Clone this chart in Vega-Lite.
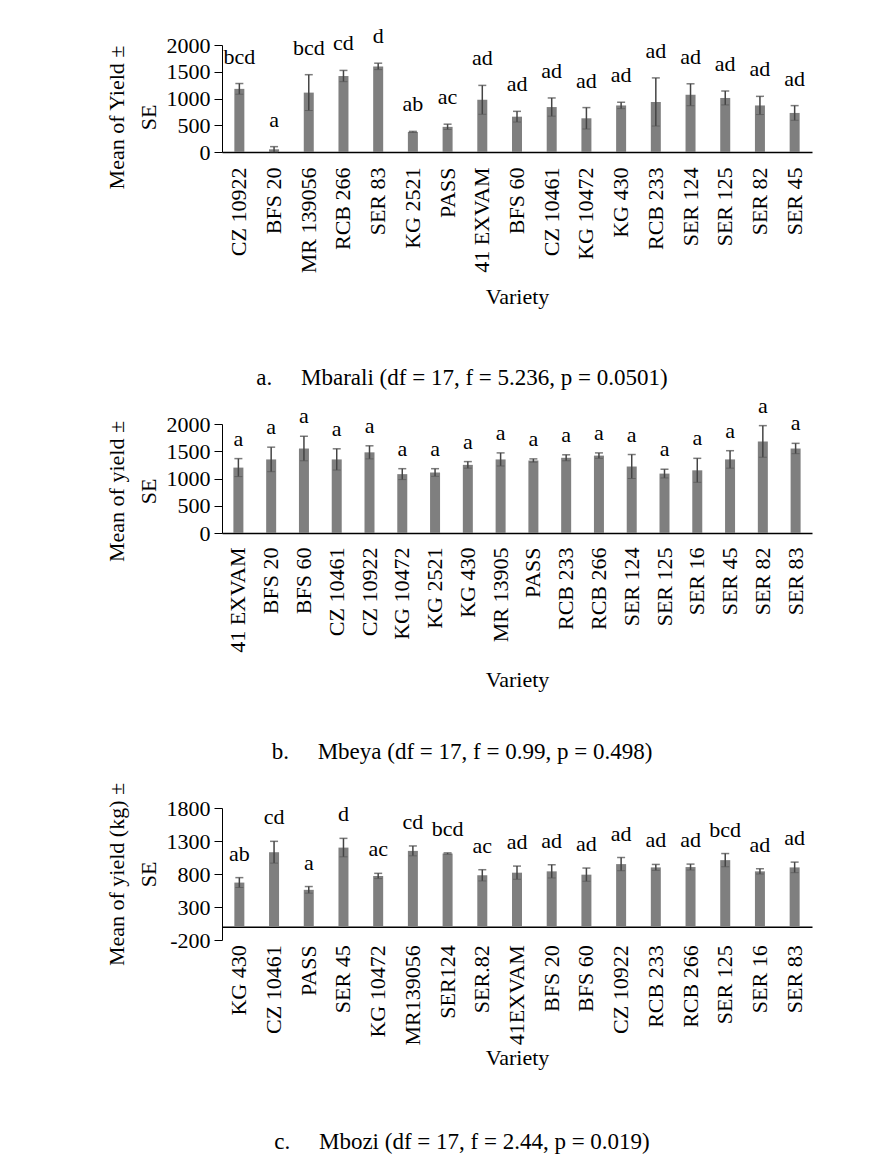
{
  "$schema": "https://vega.github.io/schema/vega-lite/v6.json",
  "background": "white",
  "padding": {"left": 105, "top": 25, "right": 10, "bottom": 10},
  "spacing": 4,
  "config": {
    "font": "Liberation Serif",
    "view": {"stroke": null},
    "axis": {"labelFont": "Liberation Serif", "titleFont": "Liberation Serif", "labelColor": "black", "titleColor": "black", "titleFontWeight": "normal", "grid": false, "domainColor": "black", "tickColor": "black", "labelFontSize": 22, "titleFontSize": 22, "titleLineHeight": 32},
    "title": {"font": "Liberation Serif", "fontSize": 23, "fontWeight": "normal", "color": "black"},
    "text": {"font": "Liberation Serif", "fontSize": 22, "color": "black"}
  },
  "datasets": {
    "mbarali": [
      {"variety": "CZ 10922", "mean": 1180, "se": 100, "grp": "bcd"},
      {"variety": "BFS 20", "mean": 50, "se": 50, "grp": "a"},
      {"variety": "MR 139056", "mean": 1110, "se": 335, "grp": "bcd"},
      {"variety": "RCB 266", "mean": 1420, "se": 105, "grp": "cd"},
      {"variety": "SER 83", "mean": 1600, "se": 60, "grp": "d"},
      {"variety": "KG 2521", "mean": 375, "se": 10, "grp": "ab"},
      {"variety": "PASS", "mean": 470, "se": 50, "grp": "ac"},
      {"variety": "41 EXVAM", "mean": 975, "se": 270, "grp": "ad"},
      {"variety": "BFS 60", "mean": 660, "se": 100, "grp": "ad"},
      {"variety": "CZ 10461", "mean": 840, "se": 170, "grp": "ad"},
      {"variety": "KG 10472", "mean": 630, "se": 200, "grp": "ad"},
      {"variety": "KG 430", "mean": 870, "se": 60, "grp": "ad"},
      {"variety": "RCB 233", "mean": 935, "se": 450, "grp": "ad"},
      {"variety": "SER 124", "mean": 1070, "se": 205, "grp": "ad"},
      {"variety": "SER 125", "mean": 1010, "se": 130, "grp": "ad"},
      {"variety": "SER 82", "mean": 870, "se": 170, "grp": "ad"},
      {"variety": "SER 45", "mean": 730, "se": 137, "grp": "ad"}
    ],
    "mbeya": [
      {"variety": "41 EXVAM", "mean": 1200, "se": 165, "grp": "a"},
      {"variety": "BFS 20", "mean": 1350, "se": 225, "grp": "a"},
      {"variety": "BFS 60", "mean": 1550, "se": 225, "grp": "a"},
      {"variety": "CZ 10461", "mean": 1350, "se": 195, "grp": "a"},
      {"variety": "CZ 10922", "mean": 1480, "se": 120, "grp": "a"},
      {"variety": "KG 10472", "mean": 1080, "se": 100, "grp": "a"},
      {"variety": "KG 2521", "mean": 1110, "se": 70, "grp": "a"},
      {"variety": "KG 430", "mean": 1250, "se": 60, "grp": "a"},
      {"variety": "MR 13905", "mean": 1350, "se": 120, "grp": "a"},
      {"variety": "PASS", "mean": 1330, "se": 30, "grp": "a"},
      {"variety": "RCB 233", "mean": 1380, "se": 55, "grp": "a"},
      {"variety": "RCB 266", "mean": 1420, "se": 50, "grp": "a"},
      {"variety": "SER 124", "mean": 1220, "se": 220, "grp": "a"},
      {"variety": "SER 125", "mean": 1090, "se": 80, "grp": "a"},
      {"variety": "SER 16", "mean": 1150, "se": 220, "grp": "a"},
      {"variety": "SER 45", "mean": 1350, "se": 160, "grp": "a"},
      {"variety": "SER 82", "mean": 1680, "se": 290, "grp": "a"},
      {"variety": "SER 83", "mean": 1550, "se": 95, "grp": "a"}
    ],
    "mbozi": [
      {"variety": "KG 430", "mean": 670, "se": 75, "grp": "ab"},
      {"variety": "CZ 10461", "mean": 1130, "se": 165, "grp": "cd"},
      {"variety": "PASS", "mean": 560, "se": 50, "grp": "a"},
      {"variety": "SER 45", "mean": 1200, "se": 140, "grp": "d"},
      {"variety": "KG 10472", "mean": 770, "se": 40, "grp": "ac"},
      {"variety": "MR139056", "mean": 1150, "se": 75, "grp": "cd"},
      {"variety": "SER124", "mean": 1110, "se": 10, "grp": "bcd"},
      {"variety": "SER.82", "mean": 780, "se": 85, "grp": "ac"},
      {"variety": "41EXVAM", "mean": 820, "se": 100, "grp": "ad"},
      {"variety": "BFS 20", "mean": 840, "se": 100, "grp": "ad"},
      {"variety": "BFS 60", "mean": 790, "se": 100, "grp": "ad"},
      {"variety": "CZ 10922", "mean": 950, "se": 100, "grp": "ad"},
      {"variety": "RCB 233", "mean": 900, "se": 45, "grp": "ad"},
      {"variety": "RCB 266", "mean": 905, "se": 45, "grp": "ad"},
      {"variety": "SER 125", "mean": 1010, "se": 100, "grp": "bcd"},
      {"variety": "SER 16", "mean": 840, "se": 40, "grp": "ad"},
      {"variety": "SER 83", "mean": 900, "se": 80, "grp": "ad"}
    ]
  },
  "vconcat": [
    {
      "width": 590, "height": 107,
      "data": {"name": "mbarali"},
      "title": {"text": "a.\u00a0\u00a0\u00a0\u00a0\u00a0Mbarali (df = 17, f = 5.236, p = 0.0501)", "orient": "bottom", "anchor": "middle", "dx": -55, "offset": 59},
      "transform": [{"calculate": "datum.mean - datum.se", "as": "lo"}, {"calculate": "datum.mean + datum.se", "as": "hi"}],
      "encoding": {"x": {"field": "variety", "type": "nominal", "sort": null, "axis": {"title": "Variety", "labelAngle": -90, "labelAlign": "right", "labelBaseline": "middle", "ticks": false, "labelPadding": 15, "titlePadding": 14, "domainWidth": 1.5}}},
      "layer": [
        {"mark": {"type": "bar", "color": "#7f7f7f", "width": 10}, "encoding": {"y": {"field": "mean", "type": "quantitative", "scale": {"domain": [0, 2000], "nice": false}, "axis": {"title": ["Mean of Yield ±", "SE"], "values": [0, 500, 1000, 1500, 2000], "tickCount": 10, "labelExpr": "'' + datum.value", "labelOverlap": false, "tickSize": 8, "labelPadding": 4, "titlePadding": 6, "titleY": 72}}}},
        {"mark": {"type": "rule", "color": "#444444", "strokeWidth": 1.5}, "encoding": {"y": {"field": "lo", "type": "quantitative"}, "y2": {"field": "hi"}}},
        {"mark": {"type": "tick", "color": "#444444", "size": 8, "thickness": 1.5}, "encoding": {"y": {"field": "hi", "type": "quantitative"}}},
        {"mark": {"type": "tick", "color": "#555555", "size": 8, "thickness": 1}, "encoding": {"y": {"field": "lo", "type": "quantitative"}}},
        {"mark": {"type": "text", "baseline": "middle", "dy": -27}, "encoding": {"y": {"field": "hi", "type": "quantitative"}, "text": {"field": "grp"}}}
      ]
    },
    {
      "spacing": 17,
      "vconcat": [
        {
          "width": 590, "height": 109,
          "data": {"name": "mbeya"},
          "title": {"text": "b.\u00a0\u00a0\u00a0\u00a0\u00a0Mbeya (df = 17, f = 0.99, p = 0.498)", "orient": "bottom", "anchor": "middle", "dx": -55, "offset": 51},
          "transform": [{"calculate": "datum.mean - datum.se", "as": "lo"}, {"calculate": "datum.mean + datum.se", "as": "hi"}],
          "encoding": {"x": {"field": "variety", "type": "nominal", "sort": null, "axis": {"title": "Variety", "labelAngle": -90, "labelAlign": "right", "labelBaseline": "middle", "ticks": false, "labelPadding": 14, "titlePadding": 17, "domainWidth": 1.5}}},
          "layer": [
            {"mark": {"type": "bar", "color": "#7f7f7f", "width": 10}, "encoding": {"y": {"field": "mean", "type": "quantitative", "scale": {"domain": [0, 2000], "nice": false}, "axis": {"title": ["Mean of yield ±", "SE"], "values": [0, 500, 1000, 1500, 2000], "tickCount": 10, "labelExpr": "'' + datum.value", "labelOverlap": false, "tickSize": 8, "labelPadding": 4, "titlePadding": 6, "titleY": 67}}}},
            {"mark": {"type": "rule", "color": "#444444", "strokeWidth": 1.5}, "encoding": {"y": {"field": "lo", "type": "quantitative"}, "y2": {"field": "hi"}}},
            {"mark": {"type": "tick", "color": "#444444", "size": 8, "thickness": 1.5}, "encoding": {"y": {"field": "hi", "type": "quantitative"}}},
            {"mark": {"type": "tick", "color": "#555555", "size": 8, "thickness": 1}, "encoding": {"y": {"field": "lo", "type": "quantitative"}}},
            {"mark": {"type": "text", "baseline": "middle", "dy": -20}, "encoding": {"y": {"field": "hi", "type": "quantitative"}, "text": {"field": "grp"}}}
          ]
        },
        {
          "width": 590, "height": 132,
          "data": {"name": "mbozi"},
          "title": {"text": "c.\u00a0\u00a0\u00a0\u00a0\u00a0Mbozi (df = 17, f = 2.44, p = 0.019)", "orient": "bottom", "anchor": "middle", "dx": -55, "offset": 63},
          "transform": [{"calculate": "datum.mean - datum.se", "as": "lo"}, {"calculate": "datum.mean + datum.se", "as": "hi"}],
          "encoding": {"x": {"field": "variety", "type": "nominal", "sort": null, "axis": {"title": "Variety", "labelAngle": -90, "labelAlign": "right", "labelBaseline": "middle", "ticks": false, "offset": -13.2, "labelPadding": 18, "titlePadding": 2, "domainWidth": 1.5}}},
          "layer": [
            {"mark": {"type": "bar", "color": "#7f7f7f", "width": 10}, "encoding": {"y": {"field": "mean", "type": "quantitative", "scale": {"domain": [-200, 1800], "nice": false}, "axis": {"title": ["Mean of yield (kg) ±", "SE"], "values": [-200, 300, 800, 1300, 1800], "tickCount": 10, "labelExpr": "'' + datum.value", "labelOverlap": false, "tickSize": 8, "labelPadding": 4, "titlePadding": 6}}}},
            {"mark": {"type": "rule", "color": "#444444", "strokeWidth": 1.5}, "encoding": {"y": {"field": "lo", "type": "quantitative"}, "y2": {"field": "hi"}}},
            {"mark": {"type": "tick", "color": "#444444", "size": 8, "thickness": 1.5}, "encoding": {"y": {"field": "hi", "type": "quantitative"}}},
            {"mark": {"type": "tick", "color": "#555555", "size": 8, "thickness": 1}, "encoding": {"y": {"field": "lo", "type": "quantitative"}}},
            {"mark": {"type": "text", "baseline": "middle", "dy": -24}, "encoding": {"y": {"field": "hi", "type": "quantitative"}, "text": {"field": "grp"}}}
          ]
        }
      ]
    }
  ]
}
